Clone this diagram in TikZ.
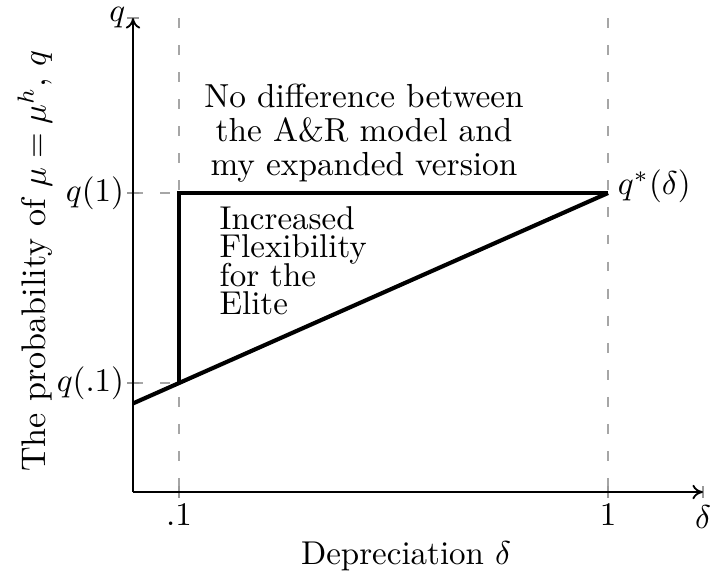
\documentclass[tikz,border=0pt]{standalone}
\usetikzlibrary{arrows.meta}
\newcommand\mytightlines{\lineskiplimit-10pt\relax}
\begin{document}
\begin{tikzpicture}[x=0.303pt,y=-0.303pt,
  axisline/.style={line width=0.55pt,-{To[length=3.2pt,width=4.4pt]}},
  gridline/.style={gray!70,line width=0.35pt,dash pattern=on 3pt off 5.2pt},
  tickmark/.style={gray!80,line width=0.35pt},
  curve/.style={line width=1.25pt,line join=miter},
  lbl/.style={inner sep=1pt}
]
\useasboundingbox (0,0) rectangle (711,583);
% coordinates
\coordinate (O) at (133,492);
\coordinate (xend) at (703,492);
\coordinate (yend) at (133,18);
\coordinate (A) at (179,383);
\coordinate (B) at (179,193);
\coordinate (C) at (608,193);
\coordinate (D) at (133,403.4);
% grid
\draw[gridline] (179,18) -- (179,492);
\draw[gridline] (608,18) -- (608,492);
\draw[gridline] (133,193) -- (B);
\draw[gridline] (133,383) -- (A);
% ticks
\foreach \x in {179,608,703} \draw[tickmark] (\x,486) -- (\x,498);
\foreach \y in {18,193,383} \draw[tickmark] (127,\y) -- (139,\y);
% axes
\draw[axisline] (O) -- (xend);
\draw[axisline] (O) -- (yend);
% curves
\draw[curve] (D) -- (C);
\draw[curve] (A) -- (B) -- (C);
% tick labels
\node[inner sep=0pt,anchor=east] (ql) at (126,18) {$q$};
\node[lbl,anchor=east] (q1) at (128,193) {$q(1)$};
\node[lbl,anchor=east] (q01) at (128,383) {$q(.1)$};
\node[lbl,anchor=north] (x01) at (179,500) {$.1$};
\node[lbl,anchor=north] (x1) at (608,500) {$1$};
\node[lbl,anchor=north] (xd) at (703,502) {$\delta$};
% axis labels
\node[font=\fontsize{10}{12}\selectfont] (xlab) at (406,556) {Depreciation $\delta$};
\node[rotate=90,font=\fontsize{10.35}{12}\selectfont] (ylab) at (35,261) {The probability of $\mu=\mu^h$, $q$};
% annotations
\node[lbl,anchor=west] (qs) at (614,186) {$q^*(\delta)$};
\node[align=center,font=\fontsize{10.1}{10.2}\selectfont] (top) at (364,133) {No difference between\\the A\&R model and\\my expanded version};
\node[align=left,anchor=north west,inner sep=0pt,font=\fontsize{10}{8.6}\selectfont\mytightlines] (flex) at (219,206) {Increased\\Flexibility\\for the\\Elite};
\end{tikzpicture}
\end{document}
